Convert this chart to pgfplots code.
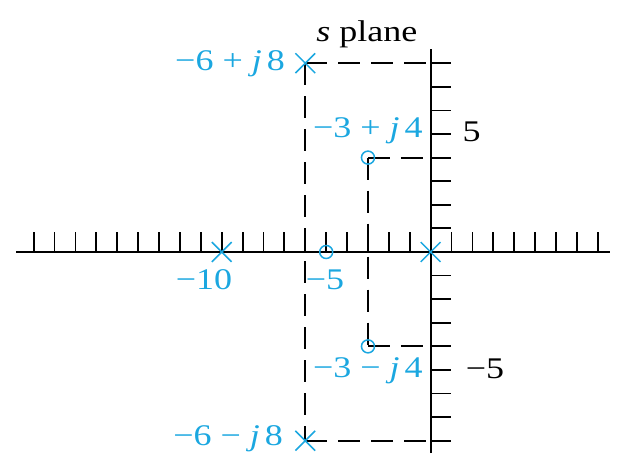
\documentclass[border=0pt]{standalone}
\usepackage{fontspec}
\setmainfont{Liberation Serif}[FakeStretch=1.2]
\usepackage{pgfplots}
\pgfplotsset{compat=1.18}
\definecolor{pz}{RGB}{27,167,224}
\begin{document}
\begin{tikzpicture}[every node/.style={font=\fontsize{30}{32}\selectfont, inner sep=0pt}]
\begin{axis}[
  x=20.9pt, y=23.6pt,
  xmin=-19.84, xmax=8.58, ymin=-8.52, ymax=8.6,
  axis lines=middle,
  axis line style={-, line width=1.8pt, black},
  xtick={-19,-18,...,-1,1,2,...,8},
  ytick={-8,-7,...,-1,1,2,...,8},
  xticklabels={}, yticklabels={},
  tick align=inside,
  major tick length=20pt,
  tick style={line width=1.8pt, black},
  clip=false,
]
\coordinate (BL) at (axis cs:-20.61,-9.11);
\coordinate (TR) at (axis cs:9.30,10.68);
\addplot[black, line width=1.8pt, dash pattern=on 22pt off 11pt] coordinates {(-6,8) (0,8)};
\addplot[black, line width=1.8pt, dash pattern=on 22pt off 11pt] coordinates {(-6,8) (-6,-8)};
\addplot[black, line width=1.8pt, dash pattern=on 22pt off 11pt] coordinates {(-6,-8) (0,-8)};
\addplot[black, line width=1.8pt, dash pattern=on 22pt off 11pt] coordinates {(-3,4) (0,4)};
\addplot[black, line width=1.8pt, dash pattern=on 22pt off 11pt] coordinates {(-3,4) (-3,-4)};
\addplot[black, line width=1.8pt, dash pattern=on 22pt off 11pt] coordinates {(-3,-4) (0,-4)};
\addplot[only marks, mark=x, mark size=14pt, pz, mark options={line width=1.5pt}] coordinates {(-6,8) (-6,-8) (-10,0) (0,0)};
\addplot[only marks, mark=o, mark size=6.5pt, pz, mark options={line width=1.5pt, fill=none}] coordinates {(-3,4) (-3,-4) (-5,0)};
\node[anchor=base] at (axis cs:-3.05,8.9) {\textit{s} plane};
\node[anchor=base east, text=pz] at (axis cs:-6.97,7.68) {−6 + \textit{j}\thinspace 8};
\node[anchor=base east, text=pz] at (axis cs:-0.37,4.87) {−3 + \textit{j}\thinspace 4};
\node[anchor=base east, text=pz] at (axis cs:-0.37,-5.34) {−3 − \textit{j}\thinspace 4};
\node[anchor=base east, text=pz] at (axis cs:-7.06,-8.21) {−6 − \textit{j}\thinspace 8};
\node[anchor=base, text=pz] at (axis cs:-10.85,-1.58) {−10};
\node[anchor=base, text=pz] at (axis cs:-5.06,-1.61) {−5};
\node[anchor=base] at (axis cs:1.96,4.67) {5};
\node[anchor=base] at (axis cs:2.6,-5.35) {−5};
\end{axis}
\pgfresetboundingbox
\path (BL) rectangle (TR);
\end{tikzpicture}
\end{document}
